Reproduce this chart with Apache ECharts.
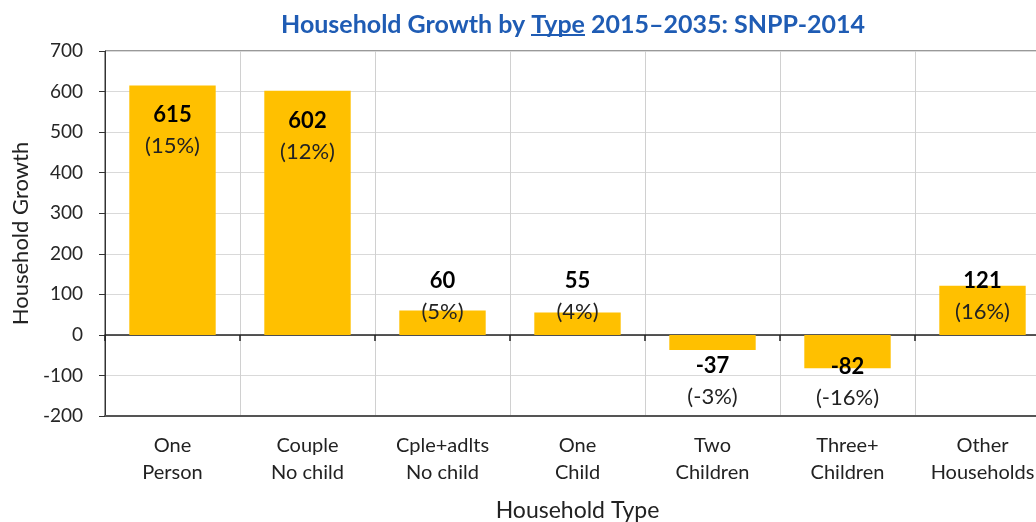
<!DOCTYPE html>
<html>
<head>
<meta charset="utf-8">
<script src="https://cdn.jsdelivr.net/npm/echarts@6/dist/echarts.min.js"></script>
<style>html,body{margin:0;padding:0;background:#fff}#c{width:1036px;height:522px}</style>
</head>
<body>
<div id="c"></div>
<script>
const categories = ['One\nPerson','Couple\nNo child','Cple+adlts\nNo child','One\nChild','Two\nChildren','Three+\nChildren','Other\nHouseholds'];
const growth = [615, 602, 60, 55, -37, -82, 121];
const shares = [15, 12, 5, 4, -3, -16, 16];
const yTicks = { min: -200, max: 700, interval: 100 };

const FONT = 'Lato';
// label placement styles (per bar)
const labelStyles = [
  { position: 'insideTop', distance: 14, offset: [0, 0] },
  { position: 'insideTop', distance: 15, offset: [0, 0] },
  { position: 'top', distance: 5, offset: [0, 22] },
  { position: 'top', distance: 5, offset: [0, 20] },
  { position: 'bottom', distance: 5, offset: [0, -4] },
  { position: 'bottom', distance: 5, offset: [0, -22] },
  { position: 'top', distance: 5, offset: [0, 47] }
];

// underline image for title word
const ul = document.createElement('canvas');
ul.width = 4; ul.height = 100;
const uctx = ul.getContext('2d');
uctx.fillStyle = '#1f5cb4';
uctx.fillRect(0, 88, 4, 7);

const chart = echarts.init(document.getElementById('c'), null, { renderer: 'canvas' });
const data = growth.map((v, i) => ({
  value: v,
  label: Object.assign({
    show: true,
    formatter: '{v|' + v + '}\n{p|(' + shares[i] + '%)}',
    rich: {
      v: { fontFamily: FONT, fontSize: 22, fontWeight: 'bold', color: '#000', lineHeight: 31 },
      p: { fontFamily: FONT, fontSize: 22, color: '#222', lineHeight: 31 }
    }
  }, labelStyles[i])
}));

chart.setOption({
  animation: false,
  title: {
    left: 276, top: 4,
    text: 'Household Growth by {u|Type} 2015–2035: SNPP-2014',
    textStyle: {
      fontFamily: FONT, fontSize: 25, fontWeight: 'bold', color: '#1f5cb4',
      rich: {
        u: { fontFamily: FONT, fontSize: 25, fontWeight: 'bold', color: '#1f5cb4', lineHeight: 31, backgroundColor: { image: ul } }
      }
    }
  },
  grid: { left: 105, width: 945, top: 51, height: 365, containLabel: false, outerBoundsMode: 'none', show: true, borderColor: '#333', borderWidth: 1 },
  xAxis: [
    {
      type: 'category', data: categories, position: 'bottom',
      name: 'Household Type', nameLocation: 'middle', nameGap: 83,
      nameTextStyle: { fontFamily: FONT, fontSize: 23, color: '#222' },
      axisLine: { show: true, onZero: false, lineStyle: { color: '#555', width: 2 } },
      axisTick: { show: false },
      axisLabel: { interval: 0, margin: 16, fontFamily: FONT, fontSize: 20, color: '#222', lineHeight: 27 },
      splitLine: { show: true, interval: 0, lineStyle: { color: '#d0d0d0', width: 1 } }
    },
    {
      type: 'category', data: categories, position: 'top',
      axisLine: { show: true, onZero: true, onZeroAxisIndex: 0, lineStyle: { color: '#222', width: 1.5 } },
      axisTick: { show: true, interval: 0, inside: true, length: 6, lineStyle: { color: '#222', width: 1.5 } },
      axisLabel: { show: false },
      splitLine: { show: false }
    }
  ],
  yAxis: {
    type: 'value', min: yTicks.min, max: yTicks.max, interval: yTicks.interval,
    name: 'Household Growth', nameLocation: 'middle', nameGap: 70, nameRotate: 90,
    nameTextStyle: { fontFamily: FONT, fontSize: 22, color: '#222' },
    axisLine: { show: true, lineStyle: { color: '#333', width: 1 } },
    axisTick: { show: true, length: 6, lineStyle: { color: '#333' } },
    axisLabel: { margin: 22, fontFamily: FONT, fontSize: 19, color: '#262626' },
    splitLine: { show: true, lineStyle: { color: '#d9d9d9', width: 1 } }
  },
  series: [{
    type: 'bar', xAxisIndex: 0, yAxisIndex: 0,
    data: data,
    barCategoryGap: '36%',
    itemStyle: { color: '#FFC000' }
  }]
});
</script>
</body>
</html>
